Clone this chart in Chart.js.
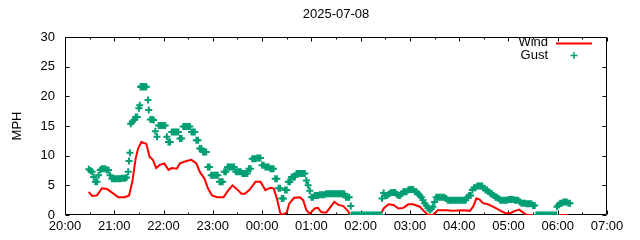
<!DOCTYPE html>
<html><head><meta charset="utf-8">
<script src="https://cdn.jsdelivr.net/npm/chart.js@4.4.1/dist/chart.umd.min.js"></script>
<style>html,body{margin:0;padding:0;background:#fff;}canvas{display:block;}</style>
</head><body>
<canvas id="c" width="640" height="240"></canvas>
<script>
const chartTitle = '2025-07-08';
const yTitle = 'MPH';
const hourLabels = ['20:00','21:00','22:00','23:00','00:00','01:00','02:00','03:00','04:00','05:00','06:00','07:00'];

// minutes since 20:00
const windMin = [29,33,39,45,51,59,65,73,78,82,86,89,93,99,103,107,111,115,121,126,130,136,140,148,154,160,164,170,174,179,185,193,199,204,209,215,219,225,232,238,244,250,254,258,262,264,270,273,279,286,290,294,298,304,308,312,318,322,328,333,339,345,347,365,384,388,394,400,406,412,418,424,432,439,442,448,454,464,472,485,493,497,501,505,509,515,521,527,529,536,542,548,553,558,562,584,612];
const windMph = [3.9,3.2,3.3,4.5,4.4,3.6,3.0,3.0,3.3,5.6,9.5,11.2,12.3,12.0,9.8,9.3,7.9,8.4,8.7,7.6,7.9,7.8,8.7,9.1,9.3,8.7,7.3,6.1,4.5,3.3,3.0,3.0,4.2,5.0,4.4,3.6,3.6,4.3,5.6,5.6,4.2,4.6,4.5,2.8,0.4,0,0.4,1.9,2.9,3.0,2.5,0.8,0.2,1.1,1.2,0.5,0.4,1.1,2.2,1.7,1.5,0.6,0,0,0,1.1,1.8,1.7,1.1,1.2,1.8,1.8,1.4,0.4,0,0,0.8,0.8,0.7,0.8,0.7,1.4,2.8,2.6,2.0,1.8,1.4,1.0,0.8,0.3,0.3,0.7,0.9,0.4,0,0,0];

const gustMin = [29,31,33,35,37,39,41,43,45,47,49,51,53,55,57,59,61,63,65,67,69,71,73,75,77,78,79,80,82,84,86,88,90,91,92,93,94,95,96,97,98,99,101,102,104,106,108,110,112,114,116,118,120,122,124,126,128,130,132,134,136,138,140,142,144,146,148,150,152,154,156,158,160,162,164,166,168,170,172,174,176,178,180,182,184,186,188,190,192,194,196,198,200,202,204,206,208,210,212,214,216,218,220,222,224,226,228,230,232,234,236,238,240,242,244,246,248,250,252,254,256,258,260,262,264,266,268,270,272,274,276,278,280,282,284,286,288,290,292,294,296,298,300,302,304,306,308,310,312,314,316,318,320,322,324,326,328,330,332,334,336,338,340,342,344,346,348,349,351,353,355,357,359,361,363,365,367,369,371,373,375,377,379,381,383,385,386,388,390,392,394,396,398,400,402,404,406,408,410,412,414,416,418,420,422,424,426,428,430,432,434,436,438,440,442,444,446,448,450,452,454,456,458,460,462,464,466,468,470,472,474,476,478,480,482,484,486,488,490,492,494,496,498,500,502,504,506,508,510,512,514,516,518,520,522,524,526,528,530,532,534,536,538,540,542,544,546,548,550,552,554,556,558,560,562,564,566,568,570,572,574,576,578,580,582,584,586,588,590,592,594,596,598,599,601,603,605,607,609,611,613,615];
const gustMph = [7.7,7.5,7.3,6.4,5.6,5.6,6.7,7.6,7.8,7.8,7.8,7.6,7.6,6.7,6.1,6.1,6.1,6.1,6.1,6.1,6.2,6.2,6.2,6.3,7.3,9.1,10.5,15.4,15.7,16.0,16.5,16.5,18.0,18.5,21.6,21.6,21.6,21.6,21.6,21.6,21.6,21.6,19.4,17.7,16.1,16.1,16.0,14.1,13.2,15.1,15.1,15.1,15.1,15.1,13.2,12.3,12.3,14.0,14.0,14.0,14.0,14.0,12.9,12.9,14.9,14.9,14.9,14.9,14.9,14.0,14.0,14.0,12.6,12.6,11.2,11.2,10.6,10.6,10.6,8.1,8.1,6.7,6.7,6.7,6.7,6.7,5.6,5.6,5.6,7.3,7.3,8.1,8.1,8.1,8.1,8.1,7.3,7.3,7.3,7.3,7.0,7.0,7.0,7.0,7.8,7.8,9.5,9.5,9.5,9.6,9.6,9.6,8.4,8.4,8.1,8.1,8.1,7.8,7.8,7.8,6.1,6.1,4.5,4.5,2.8,2.8,4.2,4.2,5.6,5.6,6.4,6.4,6.4,7.0,7.0,7.0,7.0,7.0,7.0,5.8,5.0,4.1,3.0,3.0,3.3,3.3,3.3,3.4,3.4,3.4,3.4,3.6,3.6,3.6,3.6,3.6,3.6,3.6,3.6,3.6,3.6,3.6,3.6,3.0,3.0,3.0,1.5,0,0,0,0,0,0,0,0,0,0,0,0,0,0,0,0,0,0,0,2.8,3.7,3.3,3.3,3.5,3.7,3.8,3.8,3.8,3.5,3.3,3.3,3.6,3.9,3.9,3.9,4.2,4.3,4.3,4.3,3.9,3.9,3.6,3.3,3.0,2.5,2.0,1.6,1.2,0.8,1.0,1.4,2.2,3.0,3.0,3.0,3.0,3.0,3.0,2.8,2.5,2.5,2.5,2.5,2.5,2.5,2.5,2.5,2.5,2.5,2.5,2.5,3.0,3.3,3.3,4.2,4.6,4.6,4.9,4.9,4.9,4.9,4.5,4.2,4.2,3.9,3.6,3.6,3.3,3.0,3.0,2.8,2.5,2.5,2.5,2.5,2.5,2.6,2.6,2.6,2.6,2.5,2.5,2.5,2.2,2.0,2.0,2.0,1.9,1.9,1.9,1.9,1.6,1.6,0,0,0,0,0,0,0,0,0,0,0,0,0,1.4,1.7,2.0,2.0,2.2,2.2,2.2,2.0,2.0];

const FONT = {family: '"Liberation Sans", Arial, sans-serif', size: 13, weight: 'normal'};
const windColor = '#ff0000';
const gustColor = '#009e73';

const windData = windMin.map((m, i) => ({x: m, y: windMph[i]}));
const gustData = gustMin.map((m, i) => ({x: m, y: gustMph[i]}));

const framePlugin = {
  id: 'frame',
  beforeDatasetsDraw(chart) {
    const {ctx, chartArea: a, scales: {x, y}} = chart;
    ctx.save();
    ctx.strokeStyle = '#000';
    ctx.lineWidth = 1;
    const L = Math.round(a.left) + 0.5, R = Math.round(a.right) - 0.5;
    const T = Math.round(a.top) + 0.5, B = Math.round(a.bottom) - 0.5;
    ctx.beginPath();
    ctx.rect(L, T, R - L, B - T);
    y.ticks.forEach(t => {
      const py = Math.round(y.getPixelForValue(t.value)) + 0.5;
      ctx.moveTo(L, py); ctx.lineTo(L + 4, py);
      ctx.moveTo(R, py); ctx.lineTo(R - 4, py);
    });
    for (let m = x.min; m <= x.max; m += 30) {
      const px = Math.round(x.getPixelForValue(m)) + 0.5;
      const len = (m % 60 === 0) ? 4 : 2;
      ctx.moveTo(px, B); ctx.lineTo(px, B - len);
      ctx.moveTo(px, T); ctx.lineTo(px, T + len);
    }
    ctx.stroke();
    ctx.restore();
  },
  afterDatasetsDraw(chart) {
    const {ctx} = chart;
    const ds = chart.data.datasets;
    ctx.save();
    ctx.font = '13px "Liberation Sans", Arial, sans-serif';
    ctx.fillStyle = '#000';
    ctx.textAlign = 'right';
    ctx.textBaseline = 'middle';
    ctx.fillText(ds[0].label, 548, 42);
    ctx.fillText(ds[1].label, 548, 55);
    ctx.strokeStyle = windColor;
    ctx.lineWidth = 2;
    ctx.beginPath(); ctx.moveTo(556, 43.5); ctx.lineTo(592, 43.5); ctx.stroke();
    ctx.strokeStyle = gustColor;
    ctx.lineWidth = 1.5;
    ctx.beginPath();
    ctx.moveTo(570.5, 55.5); ctx.lineTo(577.5, 55.5);
    ctx.moveTo(574, 52); ctx.lineTo(574, 59);
    ctx.stroke();
    ctx.restore();
  }
};

new Chart(document.getElementById('c'), {
  type: 'line',
  data: {
    datasets: [
      {label: 'Wind', data: windData, borderColor: windColor, backgroundColor: windColor, borderWidth: 2, pointRadius: 0, tension: 0, fill: false, order: 1},
      {label: 'Gust', data: gustData, showLine: false, pointStyle: 'cross', pointRadius: 3.5, pointBorderWidth: 2, borderWidth: 2, borderColor: gustColor, backgroundColor: gustColor, order: 0}
    ]
  },
  options: {
    responsive: false,
    animation: false,
    devicePixelRatio: 1,
    layout: {padding: {left: 0, right: 33, top: 0, bottom: 0}},
    plugins: {
      legend: {display: false},
      tooltip: {enabled: false},
      title: {display: true, text: chartTitle, fullSize: false, color: '#000', font: FONT, padding: {top: 7, bottom: 14.4}}
    },
    scales: {
      x: {
        type: 'linear', min: 0, max: 660,
        grid: {display: false, drawTicks: false},
        border: {display: false},
        ticks: {stepSize: 60, autoSkip: false, maxRotation: 0, color: '#000', font: FONT, padding: 4,
          callback: v => hourLabels[Math.round(v / 60)]},
        afterFit: s => { s.height = 25; }
      },
      y: {
        type: 'linear', min: 0, max: 30,
        grid: {display: false, drawTicks: false},
        border: {display: false},
        ticks: {stepSize: 5, color: '#000', font: FONT, padding: 10},
        title: {display: true, text: yTitle, color: '#000', font: FONT, padding: {top: 10, bottom: 0}},
        afterFit: s => { s.width = 65; }
      }
    }
  },
  plugins: [framePlugin]
});
</script>
</body></html>
